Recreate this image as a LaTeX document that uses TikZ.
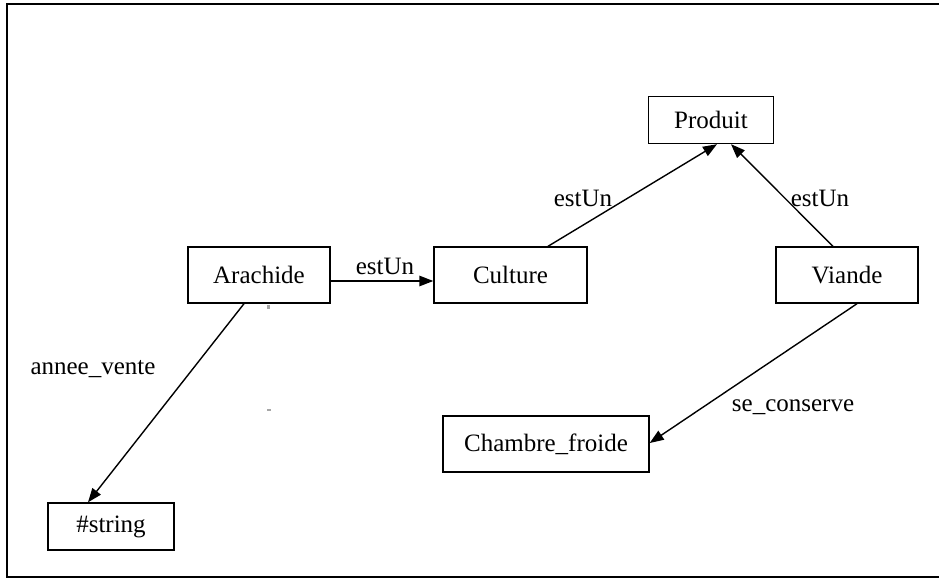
\documentclass[tikz,border=0pt]{standalone}
\usepackage{fontspec}
\setmainfont{Liberation Serif}
\usetikzlibrary{arrows.meta}

\begin{document}
\begin{tikzpicture}[x=1pt, y=-1pt,
  every node/.style={font=\fontsize{25}{29}\selectfont},
  box/.style={draw, line width=1.4pt, inner sep=0pt, minimum height=56pt},
  rel/.style={draw, line width=1.4pt, -{Triangle[length=14pt,width=10.5pt]}},
  lbl/.style={inner sep=0pt, anchor=center}]

  % page area and outer frame (top, left and bottom sides)
  \useasboundingbox (0,0) rectangle (939,579);
  \draw[line width=2.4pt] (940,4) -- (7,4) -- (7,577) -- (940,577);

  % concept boxes
  \node[box, minimum width=125pt, minimum height=47pt] (produit) at (711,120) {Produit};
  \node[box, minimum width=142pt] (arachide) at (259,275) {Arachide};
  \node[box, minimum width=153pt] (culture) at (510.5,275) {Culture};
  \node[box, minimum width=142pt] (viande) at (847,275) {Viande};
  \node[box, minimum width=206pt] (chambre) at (546,444) {Chambre\_froide};
  \node[box, minimum width=126pt, minimum height=47pt] (string) at (111,526.5) {\#string};

  % relations
  \draw[rel] ([yshift=-6pt]arachide.east) -- ([yshift=-6pt]culture.west);
  \draw[rel] ([xshift=37.5pt]culture.north) -- ([xshift=6pt]produit.south);
  \draw[rel] ([xshift=-14pt]viande.north) -- ([xshift=20pt]produit.south);
  \draw[rel] ([xshift=10pt]viande.south) -- ([yshift=1pt]chambre.east);
  \draw[rel] ([xshift=-15pt]arachide.south) -- ([xshift=-23pt]string.north);

  % relation labels
  \node[lbl] (l1) at (385,266) {estUn};
  \node[lbl] (l2) at (583,198) {estUn};
  \node[lbl] (l3) at (820,198) {estUn};
  \node[lbl] (l4) at (793,407) {se\_conserve};
  \node[lbl] (l5) at (93,369) {annee\_vente};

  % small stray marks
  \fill[gray!70] (267,305) rectangle (269.5,309);
  \fill[gray!70] (267,409) rectangle (271,411);
\end{tikzpicture}
\end{document}
